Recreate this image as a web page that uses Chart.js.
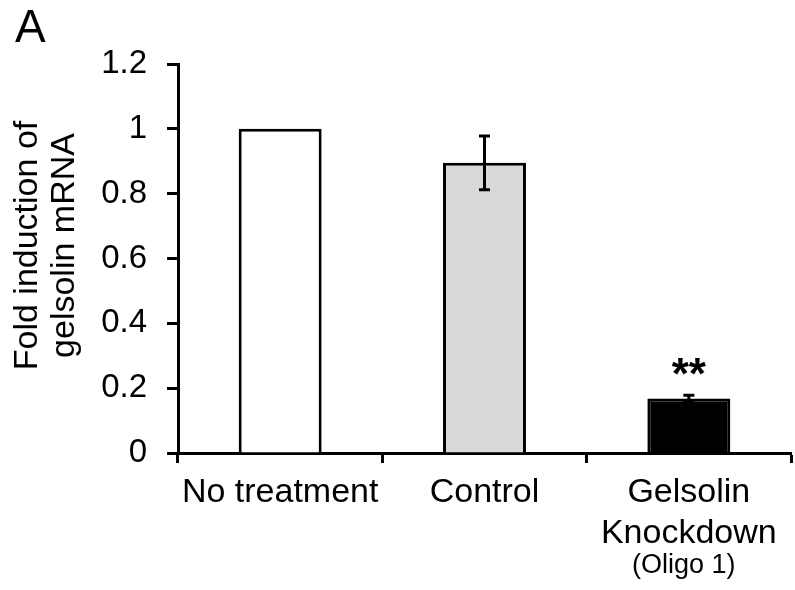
<!DOCTYPE html>
<html>
<head>
<meta charset="utf-8">
<script src="https://cdn.jsdelivr.net/npm/chart.js@4/dist/chart.umd.min.js"></script>
<style>
  html, body { margin: 0; padding: 0; background: #ffffff; }
  #wrap { width: 795px; height: 590px; position: relative; }
</style>
</head>
<body>
<div id="wrap"><canvas id="chart" width="795" height="590"></canvas></div>
<script>
// Categories (multi-line labels) and the sub-caption under the last one
const categories = ['No treatment', 'Control', ['Gelsolin', 'Knockdown']];
const subCaptions = ['', '', '(Oligo 1)'];

// Fold induction of gelsolin mRNA and error (SD)
const foldValues = [1.0, 0.895, 0.168];
const foldErrors = [0, 0.083, 0.01];

// Significance marks above each bar
const significance = ['', '', '**'];

// Y-axis tick labels
const yTickLabels = ['0', '0.2', '0.4', '0.6', '0.8', '1', '1.2'];

const barColors = ['#ffffff', '#d9d9d9', '#000000'];

const yTitleLines = ['Fold induction of', 'gelsolin mRNA'];
const panelLetter = 'A';

const FONT = '"Liberation Sans", Arial, sans-serif';

// Draws error bars, significance stars, the sub-caption, the rotated axis title and the panel letter
const annotations = {
  id: 'annotations',
  afterDatasetsDraw(chart) {
    const ctx = chart.ctx;
    const x = chart.scales.x;
    const y = chart.scales.y;
    ctx.save();
    ctx.strokeStyle = '#000';
    ctx.lineWidth = 3;
    foldValues.forEach((v, i) => {
      const err = foldErrors[i];
      const cx = x.getPixelForValue(i);
      if (err > 0) {
        const yTop = y.getPixelForValue(v + err);
        const yBot = y.getPixelForValue(v - err);
        ctx.beginPath();
        ctx.moveTo(cx, yTop); ctx.lineTo(cx, yBot);
        ctx.moveTo(cx - 5.5, yTop); ctx.lineTo(cx + 5.5, yTop);
        ctx.moveTo(cx - 5.5, yBot); ctx.lineTo(cx + 5.5, yBot);
        ctx.stroke();
      }
      if (significance[i]) {
        ctx.fillStyle = '#000';
        ctx.font = 'bold 44px ' + FONT;
        ctx.textAlign = 'center';
        ctx.textBaseline = 'alphabetic';
        ctx.fillText(significance[i], cx, y.getPixelForValue(v + err) - 6);
      }
    });
    ctx.restore();
  },
  afterDraw(chart) {
    const ctx = chart.ctx;
    const x = chart.scales.x;
    const area = chart.chartArea;
    ctx.save();
    ctx.fillStyle = '#000';
    // sub-captions below the category labels
    ctx.font = '27px ' + FONT;
    ctx.textAlign = 'center';
    ctx.textBaseline = 'alphabetic';
    subCaptions.forEach((s, i) => {
      if (s) ctx.fillText(s, x.getPixelForValue(i) - 5, 573);
    });
    // rotated y-axis title
    ctx.font = '34px ' + FONT;
    const midY = (area.top + area.bottom) / 2 - 13;
    const baselines = [37, 74];
    yTitleLines.forEach((line, k) => {
      ctx.save();
      ctx.translate(baselines[k], midY);
      ctx.rotate(-Math.PI / 2);
      ctx.textAlign = 'center';
      ctx.fillText(line, 0, 0);
      ctx.restore();
    });
    // panel letter
    ctx.font = '46px ' + FONT;
    ctx.textAlign = 'left';
    ctx.fillText(panelLetter, 15, 41.5);
    ctx.restore();
  }
};

new Chart(document.getElementById('chart'), {
  type: 'bar',
  data: {
    labels: categories,
    datasets: [{
      data: foldValues,
      backgroundColor: barColors,
      borderColor: '#000000',
      borderWidth: 3,
      barPercentage: 0.406,
      categoryPercentage: 1.0
    }]
  },
  options: {
    responsive: false,
    animation: false,
    devicePixelRatio: 1,
    layout: { padding: { left: 0, right: 4, top: 64, bottom: 0 } },
    plugins: { legend: { display: false }, tooltip: { enabled: false }, title: { display: false } },
    scales: {
      x: {
        z: 1,
        offset: true,
        grid: { offset: true, drawOnChartArea: false, drawTicks: true, tickLength: 10, tickColor: '#000', tickWidth: 3 },
        border: { display: true, color: '#000', width: 3 },
        ticks: {
          color: '#000',
          padding: 9,
          maxRotation: 0,
          autoSkip: false,
          font: { family: FONT, size: 34, lineHeight: 1.2 }
        },
        afterFit(scale) { scale.height = 137; }
      },
      y: {
        z: 1,
        min: 0,
        max: 1.2,
        grid: { drawOnChartArea: false, drawTicks: true, tickLength: 11, tickColor: '#000', tickWidth: 3 },
        border: { display: true, color: '#000', width: 3 },
        ticks: {
          stepSize: 0.2,
          color: '#000',
          padding: 20,
          font: { family: FONT, size: 33 },
          callback: (v, i) => yTickLabels[i]
        },
        afterFit(scale) { scale.width = 178; }
      }
    }
  },
  plugins: [annotations]
});
</script>
</body>
</html>
